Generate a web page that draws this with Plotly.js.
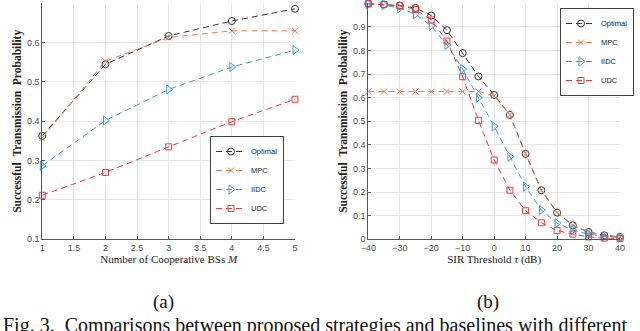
<!DOCTYPE html>
<html>
<head>
<meta charset="utf-8">
<script src="https://cdn.plot.ly/plotly-3.0.1.min.js"></script>
<style>
  html, body { margin: 0; padding: 0; background: #fff; }
  #chart { width: 640px; height: 331px; }
</style>
</head>
<body>
<div id="chart"></div>
<script>
// (a) success probability vs number of cooperative BSs
const mValues = [1, 2, 3, 4, 5];
const optimalM = [0.363, 0.545, 0.617, 0.655, 0.686];
const mpcM = [0.358, 0.553, 0.613, 0.630, 0.630];
const iidcM = [0.287, 0.402, 0.481, 0.538, 0.581];
const udcM = [0.212, 0.270, 0.335, 0.399, 0.456];

// (b) success probability vs SIR threshold (dB)
const tauValues = [-40, -35, -30, -25, -20, -15, -10, -5, 0, 5, 10, 15, 20, 25, 30, 35, 40];
const optimalT = [0.998, 0.995, 0.990, 0.980, 0.948, 0.886, 0.789, 0.690, 0.612, 0.527, 0.362, 0.208, 0.113, 0.059, 0.031, 0.017, 0.010];
const mpcT = [0.626, 0.626, 0.626, 0.626, 0.626, 0.626, 0.626, 0.626, 0.608, 0.527, 0.362, 0.208, 0.113, 0.059, 0.031, 0.017, 0.010];
const iidcT = [0.998, 0.993, 0.979, 0.954, 0.904, 0.824, 0.721, 0.600, 0.479, 0.350, 0.223, 0.124, 0.068, 0.039, 0.022, 0.012, 0.007];
const udcT = [0.998, 0.995, 0.990, 0.974, 0.929, 0.840, 0.689, 0.504, 0.336, 0.208, 0.121, 0.070, 0.037, 0.022, 0.010, 0.005, 0.003];

const seriesNames = ['Optimal', 'MPC', 'IIDC', 'UDC'];
const caption = 'Fig. 3.\u00a0\u00a0Comparisons between proposed strategies and baselines with different';

const styles = [
    { color: '#333333', symbol: 'circle-open', size: 7 },
    { color: '#ec7a55', symbol: 'x-thin-open', size: 6 },
    { color: '#3d9be0', symbol: 'triangle-right-open', size: 8 },
    { color: '#f23c3c', symbol: 'square-open', size: 6 }
];

function makeTrace(x, y, idx, axis, legendId) {
    const s = styles[idx];
    return {
        x: x,
        y: y,
        name: seriesNames[idx],
        type: 'scatter',
        mode: 'lines+markers',
        cliponaxis: false,
        line: { color: s.color, width: 1, dash: '6px,4px' },
        marker: { symbol: s.symbol, size: s.size, color: s.color, line: { color: s.color, width: 1 } },
        xaxis: 'x' + axis,
        yaxis: 'y' + axis,
        legend: legendId
    };
}

const leftSeries = [optimalM, mpcM, iidcM, udcM];
const rightSeries = [optimalT, mpcT, iidcT, udcT];

const traces = [];
leftSeries.forEach((ys, i) => traces.push(makeTrace(mValues, ys, i, '', 'legend')));
rightSeries.forEach((ys, i) => traces.push(makeTrace(tauValues, ys, i, '2', 'legend2')));

const tickFont = { family: 'Liberation Sans, Arial, sans-serif', size: 9, color: '#4d4d4d' };
const serif = 'Liberation Serif, Times New Roman, serif';
const yTitle = {
    text: '<b>Successful\u00a0\u00a0Transmission\u00a0\u00a0Probability</b>',
    font: { family: serif, size: 11.5, color: '#222' },
    standoff: 2
};
const legendFont = { family: 'Liberation Sans, Arial, sans-serif', size: 7.5, color: '#222222' };

function axisBase() {
    return {
        showgrid: true,
        gridcolor: '#e8e8e8',
        gridwidth: 1,
        zeroline: false,
        showline: true,
        linecolor: '#555555',
        linewidth: 1,
        ticks: 'inside',
        ticklen: 3,
        tickcolor: '#555555',
        tickfont: tickFont,
        automargin: false
    };
}

const yTop = 1 - 3.3 / 331;
const yBot = 1 - 239.3 / 331;

const layout = {
    width: 640,
    height: 331,
    margin: { l: 0, r: 0, t: 0, b: 0 },
    paper_bgcolor: '#ffffff',
    plot_bgcolor: '#ffffff',
    font: { family: serif, color: '#222' },
    xaxis: Object.assign(axisBase(), {
        domain: [42.3 / 640, 295 / 640],
        range: [1, 5],
        dtick: 0.5,
        anchor: 'y',
        title: { text: 'Number of Cooperative BSs <i>M</i>', font: { family: serif, size: 11, color: '#222' }, standoff: 2 }
    }),
    yaxis: Object.assign(axisBase(), {
        domain: [yBot, yTop],
        range: [0.1, 0.7],
        dtick: 0.1,
        anchor: 'x',
        title: yTitle
    }),
    xaxis2: Object.assign(axisBase(), {
        domain: [368.3 / 640, 620 / 640],
        range: [-40, 40],
        dtick: 10,
        anchor: 'y2',
        title: { text: 'SIR Threshold <i>τ</i> (dB)', font: { family: serif, size: 11, color: '#222' }, standoff: 2 }
    }),
    yaxis2: Object.assign(axisBase(), {
        domain: [yBot, yTop],
        range: [0, 1],
        dtick: 0.1,
        anchor: 'x2',
        title: yTitle
    }),
    legend: {
        x: 210 / 640, y: 1 - 224 / 331, xanchor: 'left', yanchor: 'bottom',
        bgcolor: '#ffffff', bordercolor: '#444', borderwidth: 1,
        font: legendFont, itemwidth: 30
    },
    legend2: {
        x: 560 / 640, y: 1 - 8 / 331, xanchor: 'left', yanchor: 'top',
        bgcolor: '#ffffff', bordercolor: '#444', borderwidth: 1,
        font: legendFont, itemwidth: 30
    },
    annotations: [
        { text: '(a)', xref: 'paper', yref: 'paper', x: 163 / 640, y: 1 - 302 / 331, showarrow: false,
          xanchor: 'center', yanchor: 'middle', font: { family: serif, size: 19, color: '#111' } },
        { text: '(b)', xref: 'paper', yref: 'paper', x: 488 / 640, y: 1 - 302 / 331, showarrow: false,
          xanchor: 'center', yanchor: 'middle', font: { family: serif, size: 19, color: '#111' } },
        { text: caption, xref: 'paper', yref: 'paper', x: 0.002, y: 1 - 325 / 331, showarrow: false,
          xanchor: 'left', yanchor: 'middle', font: { family: serif, size: 20, color: '#111' } }
    ]
};

Plotly.newPlot('chart', traces, layout, { staticPlot: true, displayModeBar: false });
</script>
</body>
</html>
